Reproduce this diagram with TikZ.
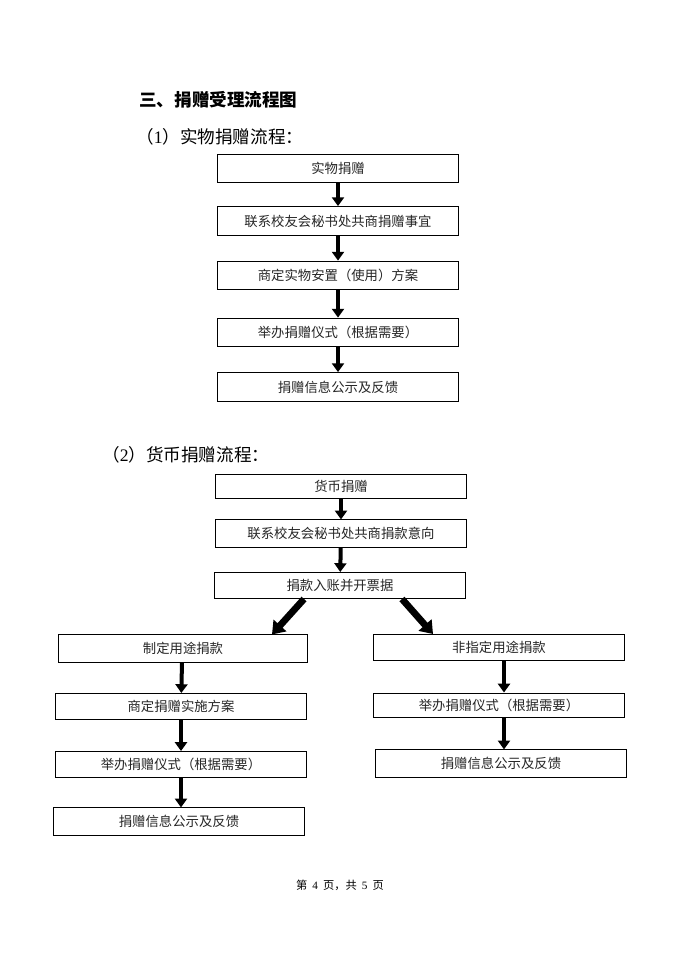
\documentclass[tikz,border=0pt]{standalone}
\usepackage{fontspec}
\setmainfont{Noto Sans CJK SC}
\newfontfamily\latn{Liberation Serif}
\usetikzlibrary{arrows.meta,calc,positioning}
\tikzset{
  stepbox/.style={
    shape = rectangle,
    draw,
    line width = 0.7pt,
    inner sep = 0pt,
    minimum width = 6cm,
    minimum height = 0.72cm,
    text = black!85,
    font = \fontsize{9.5pt}{11pt}\selectfont
  },
  cashbox/.style={
    minimum width = 6.25cm,
    minimum height = 0.65cm
  },
}
\tikzset{
  flow/.style={
    -{Triangle[width=0.3cm,length=0.22cm]},
    line width = 0.1cm
  },
  fork/.style={
    -{Triangle[width=0.42cm,length=0.3cm]},
    line width = 0.17cm
  },
  heading/.style={
    anchor = west,
    inner sep = 0pt,
    font = \fontsize{12.5pt}{14pt}\bfseries\selectfont
  },
  subheading/.style={
    anchor = west,
    inner sep = 0pt,
    font = \fontsize{12.5pt}{14pt}\selectfont
  }
}

\begin{document}
\begin{tikzpicture}[x=0.025cm, y=-0.025cm]
        \fill[white] (0,0) rectangle (679,960);
        \useasboundingbox (0,0) rectangle (679,960);
        \node[heading] (title) at (139,100) {三、捐赠受理流程图};
        \node[subheading] (sub1) at (136,137) {（{\latn 1}）实物捐赠流程：};
        \node[subheading] (sub2) at (102,455) {（{\latn 2}）货币捐赠流程：};
        % goods
        \node[stepbox] (g1) at (338,168.5) {实物捐赠};
        \node[stepbox] (g2) at (338,221) {联系校友会秘书处共商捐赠事宜};
        \node[stepbox] (g3) at (338,275.5) {商定实物安置（使用）方案};
        \node[stepbox] (g4) at (338,332.5) {举办捐赠仪式（根据需要）};
        \node[stepbox] (g5) at (338,387) {捐赠信息公示及反馈};
        \draw[flow] (g1) -- (g2);
        \draw[flow] (g2) -- (g3);
        \draw[flow] (g3) -- (g4);
        \draw[flow] (g4) -- (g5);
        % money
        \node[stepbox, cashbox, minimum height=0.58cm] (m1) at (341,486.5) {货币捐赠};
        \node[stepbox, cashbox, minimum height=0.68cm] (m2) at (341,533.5) {联系校友会秘书处共商捐款意向};
        \node[stepbox, cashbox] (m3) at (340,585.5) {捐款入账并开票据};
        \draw[flow] (m1) -- (m2);
        \draw[flow] (m2) -- (m3);
        \node[stepbox, cashbox, minimum width=6.2cm, minimum height=0.68cm] (l1) at (183,648.5) {制定用途捐款};
        \node[stepbox, cashbox] (l2) at (181,706.5) {商定捐赠实施方案};
        \node[stepbox, cashbox] (l3) at (181,764.5) {举办捐赠仪式（根据需要）};
        \node[stepbox, cashbox, minimum height=0.68cm] (l4) at (179,821.5) {捐赠信息公示及反馈};
        \node[stepbox, cashbox] (r1) at (499,647.5) {非指定用途捐款};
        \node[stepbox, cashbox, minimum height=0.6cm] (r2) at (499,705) {举办捐赠仪式（根据需要）};
        \node[stepbox, cashbox, minimum height=0.68cm] (r3) at (501,763.5) {捐赠信息公示及反馈};
        \draw[fork] ($(m3.south)+(-36,0)$) -- ($(l1.north)+(89,0)$);
        \draw[fork] ($(m3.south)+(62,0)$) -- ($(r1.north)+(-66,0)$);
        \draw[flow] ($(l1.south)+(-1,0)$) -- (l2);
        \draw[flow] (l2) -- (l3);
        \draw[flow] (l3.south) -- (l3.south |- l4.north);
        \draw[flow] ($(r1.south)+(5,0)$) -- ($(r2.north)+(5,0)$);
        \draw[flow] ($(r2.south)+(5,0)$) -- ($(r2.south |- r3.north)+(5,0)$);
        \node[font=\fontsize{8pt}{9pt}\selectfont] (foot) at (340,885) {第\hspace{0.45em}{\latn 4}\hspace{0.45em}页，共\hspace{0.45em}{\latn 5}\hspace{0.45em}页};
    \end{tikzpicture}
\end{document}
